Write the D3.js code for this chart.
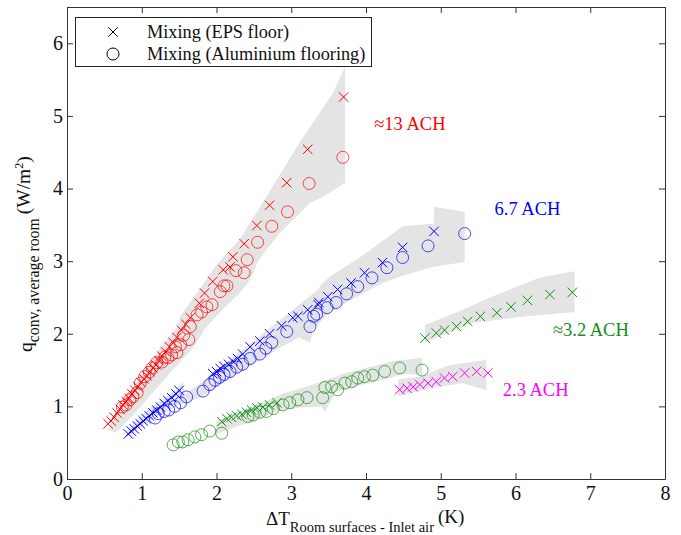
<!DOCTYPE html>
<html><head><meta charset="utf-8">
<script src="https://cdn.jsdelivr.net/npm/d3@7"></script>
<style>
html,body{margin:0;padding:0;background:#fff;}
svg{display:block;font-family:"Liberation Serif","Times New Roman",serif;}
</style></head>
<body><svg id="chart" width="681" height="535"></svg>
<script>
// ---- data ----
const xTicks = [0,1,2,3,4,5,6,7,8];
const yTicks = [0,1,2,3,4,5,6];
const legendLabels = ["Mixing (EPS floor)", "Mixing (Aluminium flooring)"];
const achLabels = ["\u224813 ACH", "6.7 ACH", "\u22483.2 ACH", "2.3 ACH"];
const achLabelPos = [[4.11,4.8],[5.72,3.63],[6.5,1.97],[5.83,1.14]];

// 13 ACH
const redEPS = [[0.55,0.76],[0.59,0.80],[0.63,0.85],[0.67,0.91],[0.71,0.96],[0.75,1.02],[0.79,1.07],[0.83,1.11],[0.87,1.17],[0.91,1.22],[0.95,1.27],[0.99,1.33],[1.03,1.38],[1.07,1.42],[1.11,1.48],[1.15,1.53],[1.19,1.57],[1.23,1.63],[1.27,1.69],[1.32,1.75],[1.37,1.82],[1.42,1.88],[1.47,1.95],[1.53,2.05],[1.59,2.13],[1.65,2.22],[1.77,2.42],[1.84,2.56],[1.95,2.72],[2.09,2.88],[2.18,2.92],[2.22,3.06],[2.37,3.24],[2.54,3.49],[2.71,3.77],[2.94,4.08],[3.22,4.54],[3.70,5.26]];
const redAlu = [[0.74,0.99],[0.79,1.02],[0.84,1.09],[0.88,1.13],[0.94,1.19],[0.98,1.32],[1.04,1.41],[1.10,1.47],[1.14,1.53],[1.20,1.60],[1.27,1.61],[1.31,1.68],[1.35,1.67],[1.40,1.71],[1.47,1.74],[1.45,1.82],[1.52,1.85],[1.56,1.98],[1.63,1.92],[1.65,2.10],[1.74,2.26],[1.80,2.30],[1.87,2.37],[1.94,2.40],[2.05,2.58],[2.10,2.66],[2.14,2.66],[2.26,2.87],[2.37,2.84],[2.41,3.02],[2.55,3.26],[2.74,3.48],[2.95,3.68],[3.24,4.07],[3.69,4.43]];
const redBand = [[0.55,0.68],[0.75,1.05],[1.05,1.50],[1.30,1.88],[1.48,2.10],[1.52,2.25],[1.75,2.58],[2.00,2.95],[2.31,3.30],[2.67,3.89],[3.11,4.63],[3.56,5.32],[3.72,5.68],[3.72,4.08],[3.45,3.90],[3.25,3.80],[2.85,3.39],[2.55,3.00],[2.50,2.85],[2.42,2.70],[2.30,2.55],[2.05,2.30],[1.85,2.08],[1.70,1.82],[1.50,1.60],[1.20,1.25],[0.90,0.90],[0.65,0.64]];

// 6.7 ACH
const blueEPS = [[0.82,0.62],[0.86,0.66],[0.90,0.69],[0.94,0.73],[0.98,0.76],[1.02,0.80],[1.06,0.83],[1.10,0.87],[1.15,0.91],[1.20,0.95],[1.25,0.99],[1.30,1.04],[1.35,1.08],[1.40,1.12],[1.46,1.17],[1.50,1.22],[1.95,1.45],[2.00,1.48],[2.05,1.52],[2.10,1.55],[2.16,1.58],[2.22,1.62],[2.28,1.66],[2.35,1.72],[2.45,1.82],[2.58,1.90],[2.71,2.00],[2.87,2.11],[3.02,2.22],[3.09,2.24],[3.22,2.33],[3.36,2.40],[3.37,2.43],[3.49,2.51],[3.62,2.61],[3.80,2.70],[3.98,2.84],[4.22,2.98],[4.49,3.19],[4.91,3.41]];
const blueAlu = [[1.18,0.84],[1.22,0.90],[1.30,0.93],[1.36,0.95],[1.44,1.00],[1.52,1.05],[1.60,1.13],[1.82,1.21],[1.91,1.30],[1.98,1.36],[2.04,1.40],[2.10,1.44],[2.18,1.48],[2.27,1.54],[2.35,1.58],[2.45,1.66],[2.58,1.72],[2.66,1.80],[2.74,1.88],[2.94,2.03],[3.25,2.10],[3.30,2.24],[3.34,2.27],[3.48,2.36],[3.60,2.43],[3.74,2.55],[3.89,2.65],[4.08,2.77],[4.28,2.91],[4.49,3.05],[4.83,3.21],[5.32,3.38]];
const blueBand = [[0.80,0.66],[1.10,0.97],[1.47,1.24],[1.55,1.34],[1.58,1.17],[1.78,1.32],[2.27,1.72],[2.80,2.15],[3.36,2.61],[3.40,2.68],[3.52,2.79],[3.96,3.08],[4.49,3.48],[4.91,3.52],[4.91,3.75],[5.32,3.68],[5.32,2.99],[4.89,2.92],[4.49,2.80],[4.22,2.70],[3.74,2.43],[3.52,2.30],[3.29,2.06],[3.25,1.88],[3.10,1.95],[2.80,1.78],[2.27,1.44],[1.78,1.12],[1.50,1.02],[1.10,0.80],[0.80,0.58]];

// ~3.2 ACH
const greenEPSHigh = [[4.79,1.94],[4.94,2.01],[5.05,2.05],[5.21,2.10],[5.36,2.17],[5.53,2.24],[5.75,2.29],[5.94,2.37],[6.16,2.46],[6.46,2.54],[6.76,2.57]];
const greenEPSLow = [[2.07,0.79],[2.14,0.83],[2.20,0.85],[2.27,0.87],[2.34,0.89],[2.40,0.92],[2.47,0.95],[2.54,0.98],[2.62,0.99],[2.71,1.02],[2.81,1.05]];
const greenAlu = [[1.42,0.47],[1.49,0.51],[1.55,0.51],[1.62,0.54],[1.71,0.58],[1.80,0.61],[1.91,0.66],[2.07,0.63],[2.42,0.86],[2.49,0.88],[2.58,0.92],[2.67,0.93],[2.76,0.97],[2.89,1.02],[2.98,1.05],[3.09,1.09],[3.21,1.12],[3.42,1.12],[3.45,1.26],[3.54,1.27],[3.62,1.23],[3.72,1.32],[3.81,1.34],[3.89,1.39],[3.98,1.41],[4.09,1.43],[4.25,1.48],[4.45,1.53],[4.75,1.50]];
const greenBandHigh = [[4.79,2.12],[5.30,2.33],[5.66,2.50],[6.32,2.77],[6.79,2.86],[6.79,2.30],[6.15,2.24],[5.43,2.15],[4.79,1.88]];
const greenBandLow = [[2.00,0.80],[2.60,1.05],[2.90,1.18],[3.10,1.24],[3.40,1.34],[3.70,1.45],[4.00,1.53],[4.35,1.62],[4.75,1.67],[4.75,1.43],[4.50,1.45],[4.30,1.38],[3.95,1.30],[3.60,1.20],[3.45,0.93],[3.40,1.00],[3.10,0.98],[2.80,0.93],[2.50,0.80],[2.20,0.70],[2.00,0.62]];

// 2.3 ACH
const magentaEPS = [[4.45,1.23],[4.55,1.25],[4.63,1.27],[4.72,1.30],[4.83,1.32],[4.94,1.34],[5.05,1.39],[5.16,1.41],[5.32,1.46],[5.48,1.48],[5.63,1.46]];
const magentaBand = [[4.43,1.37],[4.72,1.41],[5.12,1.57],[5.61,1.64],[5.61,1.22],[5.30,1.32],[4.90,1.26],[4.43,1.14]];

// ---- drawing ----
const L = 67, R = 665, T = 7, B = 479;
const x = d3.scaleLinear().domain([0,8]).range([L,R]);
const y = d3.scaleLinear().domain([0,6.5]).range([B,T]);
const svg = d3.select("#chart");

const RED="#ff0000", BLUE="#0000ff", GREEN="#109010", MAG="#ff00ff", BAND="#e4e4e4";

svg.append("clipPath").attr("id","clip").append("rect").attr("x",L).attr("y",T).attr("width",R-L).attr("height",B-T);
const plot = svg.append("g").attr("clip-path","url(#clip)");

const poly = d3.line().x(d=>x(d[0])).y(d=>y(d[1]));
[redBand, blueBand, greenBandHigh, greenBandLow, magentaBand].forEach(b=>{
  plot.append("path").attr("d", poly(b)+"Z").attr("fill",BAND).attr("stroke","none");
});

const crossPath = "M-4.7,-4.7L4.7,4.7M-4.7,4.7L4.7,-4.7";
function crosses(data,color){
  plot.append("g").selectAll("path").data(data).join("path")
    .attr("d",crossPath).attr("transform",d=>`translate(${x(d[0])},${y(d[1])})`)
    .attr("fill","none").attr("stroke",color).attr("stroke-width",1);
}
function circles(data,color){
  plot.append("g").selectAll("circle").data(data).join("circle")
    .attr("cx",d=>x(d[0])).attr("cy",d=>y(d[1])).attr("r",6)
    .attr("fill","none").attr("stroke",color).attr("stroke-width",1).attr("stroke-opacity",0.7);
}
circles(redAlu,RED); crosses(redEPS,RED);
circles(blueAlu,BLUE); crosses(blueEPS,BLUE);
circles(greenAlu,GREEN); crosses(greenEPSLow,GREEN); crosses(greenEPSHigh,GREEN);
crosses(magentaEPS,MAG);

// axes
const axisColor="#333";
const gB = svg.append("g").attr("transform",`translate(0,${B})`)
  .call(d3.axisBottom(x).tickValues(xTicks).tickSize(-6).tickSizeOuter(0).tickPadding(7).tickFormat(d3.format("d")));
const gT = svg.append("g").attr("transform",`translate(0,${T})`)
  .call(d3.axisTop(x).tickValues(xTicks).tickSize(-6).tickSizeOuter(0).tickFormat(""));
const gL = svg.append("g").attr("transform",`translate(${L},0)`)
  .call(d3.axisLeft(y).tickValues(yTicks).tickSize(-6).tickSizeOuter(0).tickPadding(4).tickFormat(d3.format("d")));
const gR = svg.append("g").attr("transform",`translate(${R},0)`)
  .call(d3.axisRight(y).tickValues(yTicks).tickSize(-6).tickSizeOuter(0).tickFormat(""));
[gB,gT,gL,gR].forEach(g=>{
  g.selectAll("path.domain").attr("stroke",axisColor);
  g.selectAll(".tick line").attr("stroke",axisColor);
  g.selectAll(".tick text").attr("fill","#111").style("font-size","20px").style("font-family",'"Liberation Serif",serif');
});

// legend
const lg = svg.append("g");
lg.append("rect").attr("x",75.5).attr("y",17.5).attr("width",296).attr("height",49).attr("fill","#fff").attr("stroke","#222").attr("stroke-width",1);
lg.append("path").attr("d",crossPath).attr("transform","translate(113,32)").attr("stroke","#000").attr("fill","none");
lg.append("circle").attr("cx",113).attr("cy",54).attr("r",6).attr("stroke","#000").attr("fill","none");
lg.selectAll("text").data(legendLabels).join("text")
  .attr("x",147).attr("y",(d,i)=>38+i*22).attr("font-size",18.3).attr("fill","#111").text(d=>d);

// ACH labels
const achColors=[RED,BLUE,GREEN,MAG];
svg.append("g").selectAll("text").data(achLabels).join("text")
  .attr("x",(d,i)=>x(achLabelPos[i][0])).attr("y",(d,i)=>y(achLabelPos[i][1]))
  .attr("font-size",18.5).attr("fill",(d,i)=>achColors[i]).text(d=>d);

// x label
const xl = svg.append("text").attr("x",266).attr("y",525).attr("font-size",19).attr("fill","#111");
xl.append("tspan").text("\u0394T");
xl.append("tspan").attr("dy",7).attr("font-size",14.5).text("Room surfaces - Inlet air");
xl.append("tspan").attr("dy",-9).attr("dx",4).text("(K)");

// y label
const yl = svg.append("text").attr("transform","translate(32,352) rotate(-90)").attr("font-size",19.5).attr("fill","#111");
yl.append("tspan").text("q");
yl.append("tspan").attr("dy",7).attr("font-size",15.8).text("conv, average room");
yl.append("tspan").attr("dy",-9).attr("dx",4).text("(W/m");
yl.append("tspan").attr("dy",-7).attr("font-size",12).text("2");
yl.append("tspan").attr("dy",7).text(")");
</script>
</body></html>
